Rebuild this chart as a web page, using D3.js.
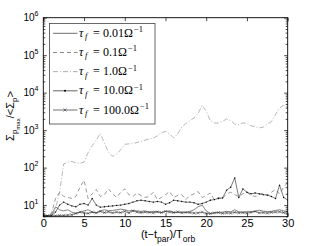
<!DOCTYPE html>
<html>
<head>
<meta charset="utf-8">
<script src="https://cdn.jsdelivr.net/npm/d3@7"></script>
<style>
  body { margin: 0; background: #fff; }
  svg { display: block; }
</style>
</head>
<body>
<div id="chart"></div>
<script>

var times = d3.range( 0, 30.01, 0.5 );

var tau001 = [ 5.2, 5.2, 5.5, 9, 7.5, 7, 7.5, 6.5, 6, 6.5, 7, 7.5, 6.5, 6.2, 7, 7.5, 7, 7.2, 7.5, 7.8,
    7.5, 7, 7.2, 7, 6.8, 7, 6.5, 6.8, 6.6, 6.4, 6.8, 7, 6.5, 6.3, 6.6, 6.4, 6.8, 7.5, 9, 10,
    7, 6, 6.2, 6.4, 6.5, 6.8, 6.6, 7.5, 6.6, 6.5, 6.7, 6.6, 6.8, 7.3, 6.9, 6.7, 6.8, 7.2, 7.5, 7, 6.8 ];

var tau01 = [ 5.2, 5.2, 6, 15, 22, 17, 16, 15, 17, 30, 46, 15, 20, 26, 17, 19, 27, 20, 16, 22,
    27, 19, 17, 21, 18, 16, 17, 22, 14, 16, 19, 23, 16, 18, 19, 14, 18, 20, 23, 16,
    18, 21, 14, 16, 15, 20, 22, 19, 17, 20, 22, 18, 17, 19, 21, 18, 22, 26, 20, 30, 40 ];

var tau1 = [ 4.9, 4.9, 5, 8, 22, 125, 140, 145, 135, 130, 140, 250, 380, 550, 820, 450, 260, 200, 230, 300,
    420, 430, 440, 470, 500, 540, 580, 610, 700, 850, 930, 800, 620, 800, 1200, 1500, 1800, 2100, 2800, 4600,
    3200, 1800, 1550, 1550, 1700, 2000, 1800, 1450, 1400, 1550, 1550, 1300, 1250, 1150, 1200, 1450, 1700, 2600, 3900, 4600, 4200 ];

var tau10 = [ 5.2, 5.2, 5.2, 6.5, 10, 12, 10.5, 9.5, 9, 10.5, 11, 10, 15, 10, 8.8, 9, 9.3, 9.5, 9.8, 10,
    10.5, 11, 12, 13, 13.5, 13, 12.5, 12, 12.5, 12, 10.5, 11.5, 13.5, 13, 12.5, 12, 12, 11.5, 10.5, 11,
    12, 13.5, 14, 15, 15.5, 25, 30, 53, 16, 27, 22, 20, 21, 20, 19, 18.5, 17, 15, 34, 16, 13.6 ];

var tau100 = [ 5.2, 5.2, 5.2, 5.2, 5.3, 5.3, 5.4, 5.5, 6, 6.5, 6.2, 6, 6.5, 6.2, 6.8, 6.3, 6.6, 6.2, 6.5, 6.3,
    6.8, 6.2, 7, 6.5, 6.3, 6.5, 6.4, 6.2, 6.6, 6.3, 6.8, 6.5, 6.3, 6.6, 6.2, 6.4, 6.3, 6.1, 6.2, 6.5,
    6, 5.9, 6.2, 6.3, 6, 6.2, 6.1, 6.4, 6.2, 6.3, 6.1, 6.4, 6.8, 6.2, 6.3, 6.1, 6.4, 6.5, 6.6, 6.3, 6.1 ];

var legendValues = [ '0.01', '0.1', '1.0', '10.0', '100.0' ];
var xTicks = [ 0, 5, 10, 15, 20, 25, 30 ];
var yTicks = [ 1, 2, 3, 4, 5, 6 ];   // decades

var series = [
    { values: tau001, dash: null,          color: '#333', marker: null },
    { values: tau01,  dash: '4,3',         color: '#555', marker: null },
    { values: tau1,   dash: '5,2,1,2',     color: '#888', marker: null },
    { values: tau10,  dash: null,          color: '#222', marker: 'dot' },
    { values: tau100, dash: null,          color: '#333', marker: 'x' }
];

// Chart size

var width = 317, height = 246;
var plotLeft = 43.3, plotRight = 287.7, plotTop = 17.7, plotBottom = 216.7;

var svg = d3.select('#chart').append('svg')
    .attr('width', width)
    .attr('height', height);

var x = d3.scaleLinear().domain([ 0, 30 ]).range([ plotLeft, plotRight ]);
var y = d3.scaleLog().domain([ 4.9, 1e6 ]).range([ plotBottom, plotTop ]);

svg.append('defs').append('clipPath').attr('id', 'plot-clip')
    .append('rect')
    .attr('x', plotLeft).attr('y', plotTop)
    .attr('width', plotRight - plotLeft).attr('height', plotBottom - plotTop);

// Lines

var line = d3.line()
    .x(function ( d, i ) { return x( times[ i ] ); })
    .y(function ( d ) { return y( d ); });

var plot = svg.append('g').attr('clip-path', 'url(#plot-clip)');

series.forEach(function ( s ) {

    plot.append('path')
        .datum( s.values )
        .attr('d', line)
        .attr('fill', 'none')
        .attr('stroke', s.color)
        .attr('stroke-width', 0.6)
        .attr('stroke-dasharray', s.dash);

    if ( s.marker === 'dot' ) {
        plot.selectAll(null).data( s.values ).enter().append('circle')
            .attr('cx', function ( d, i ) { return x( times[ i ] ); })
            .attr('cy', function ( d ) { return y( d ); })
            .attr('r', 0.7)
            .attr('fill', '#000');
    }

    if ( s.marker === 'x' ) {
        plot.selectAll(null).data( s.values ).enter().append('path')
            .attr('d', function ( d, i ) {
                var cx = x( times[ i ] ), cy = y( d ), r = 1.4;
                return 'M' + (cx - r) + ',' + (cy - r) + 'L' + (cx + r) + ',' + (cy + r) +
                       'M' + (cx - r) + ',' + (cy + r) + 'L' + (cx + r) + ',' + (cy - r);
            })
            .attr('stroke', '#333')
            .attr('stroke-width', 0.5);
    }

});

// Axes, ticks inside on all four sides

var fontAxis = 'Liberation Sans, Arial, sans-serif';

function styleAxis ( g ) {
    g.select('.domain').remove();
    g.selectAll('line').attr('stroke', '#000').attr('stroke-width', 0.7);
}

svg.append('g')
    .attr('transform', 'translate(0,' + plotBottom + ')')
    .call( d3.axisBottom( x ).tickValues( xTicks ).tickSizeInner( -3.5 ).tickSizeOuter( 0 ).tickPadding( 3 ) )
    .call( styleAxis )
    .selectAll('text')
    .attr('font-family', fontAxis)
    .attr('font-size', 11)
    .attr('fill', '#000');

svg.append('g')
    .attr('transform', 'translate(0,' + plotTop + ')')
    .call( d3.axisTop( x ).tickValues( xTicks ).tickSizeInner( -3.5 ).tickSizeOuter( 0 ).tickFormat('') )
    .call( styleAxis );

var majorY = yTicks.map(function ( e ) { return Math.pow( 10, e ); });
var minorY = [];
[ 0, 1, 2, 3, 4, 5 ].forEach(function ( e ) {
    d3.range( 2, 10 ).forEach(function ( m ) {
        var v = m * Math.pow( 10, e );
        if ( v >= 4.9 && v <= 1e6 ) minorY.push( v );
    });
});

[ [ d3.axisLeft, plotLeft ], [ d3.axisRight, plotRight ] ].forEach(function ( a ) {
    svg.append('g')
        .attr('transform', 'translate(' + a[ 1 ] + ',0)')
        .call( a[ 0 ]( y ).tickValues( majorY ).tickSizeInner( -3.5 ).tickSizeOuter( 0 ).tickFormat('') )
        .call( styleAxis );
    svg.append('g')
        .attr('transform', 'translate(' + a[ 1 ] + ',0)')
        .call( a[ 0 ]( y ).tickValues( minorY ).tickSizeInner( -2 ).tickSizeOuter( 0 ).tickFormat('') )
        .call( styleAxis );
});

// Y tick labels 10^n

var yLab = svg.append('g').selectAll('text').data( yTicks ).enter().append('text')
    .attr('x', 38.5)
    .attr('y', function ( d ) { return y( Math.pow( 10, d ) ) + 3.5; })
    .attr('text-anchor', 'end')
    .attr('font-family', fontAxis)
    .attr('font-size', 10)
    .attr('fill', '#000');

yLab.append('tspan').text('10');
yLab.append('tspan')
    .attr('dy', -5)
    .attr('font-size', 7)
    .text(function ( d ) { return d; });

// Frame

svg.append('rect')
    .attr('x', plotLeft).attr('y', plotTop)
    .attr('width', plotRight - plotLeft).attr('height', plotBottom - plotTop)
    .attr('fill', 'none')
    .attr('stroke', '#000')
    .attr('stroke-width', 0.9);

// X label

var xl = svg.append('text')
    .attr('x', 168)
    .attr('y', 238)
    .attr('text-anchor', 'middle')
    .attr('font-family', fontAxis)
    .attr('font-size', 11)
    .attr('fill', '#000');

xl.append('tspan').text('(t\u2212t');
xl.append('tspan').attr('dy', 4).attr('font-size', 8.5).text('par');
xl.append('tspan').attr('dy', -4).text(')/T');
xl.append('tspan').attr('dy', 4).attr('font-size', 8.5).text('orb');

// Y label

var yl = svg.append('text')
    .attr('transform', 'translate(14,116) rotate(-90)')
    .attr('text-anchor', 'middle')
    .attr('font-family', fontAxis)
    .attr('font-size', 11)
    .attr('fill', '#000');

yl.append('tspan').text('\u03A3');
yl.append('tspan').attr('dy', 3).attr('font-size', 8).text('p');
yl.append('tspan').attr('dy', 3).attr('font-size', 6).text('max');
yl.append('tspan').attr('dy', -6).text('/<\u03A3');
yl.append('tspan').attr('dy', 3).attr('font-size', 8).text('p');
yl.append('tspan').attr('dy', -3).text('>');

// Legend

var legend = svg.append('g');

legend.append('rect')
    .attr('x', 49.5).attr('y', 23.5)
    .attr('width', 105.5).attr('height', 100.5)
    .attr('fill', '#fff')
    .attr('stroke', '#444')
    .attr('stroke-width', 0.8);

var rowY = d3.scaleLinear().domain([ 0, 4 ]).range([ 33.3, 110 ]);
var fontSerif = 'Liberation Serif, DejaVu Serif, serif';

series.forEach(function ( s, i ) {

    var ly = rowY( i );

    legend.append('line')
        .attr('x1', 53).attr('x2', 77.5)
        .attr('y1', ly).attr('y2', ly)
        .attr('stroke', s.color)
        .attr('stroke-width', 0.7)
        .attr('stroke-dasharray', s.dash);

    if ( s.marker === 'dot' ) {
        legend.append('circle').attr('cx', 65).attr('cy', ly).attr('r', 1).attr('fill', '#000');
    }
    if ( s.marker === 'x' ) {
        legend.append('path')
            .attr('d', 'M63.5,' + (ly - 1.5) + 'L66.5,' + (ly + 1.5) + 'M63.5,' + (ly + 1.5) + 'L66.5,' + (ly - 1.5))
            .attr('stroke', '#333').attr('stroke-width', 0.6);
    }

    var t = legend.append('text')
        .attr('y', ly + 3.5)
        .attr('font-family', fontSerif)
        .attr('font-size', 12)
        .attr('fill', '#000');

    t.append('tspan').attr('x', 79).attr('font-style', 'italic').text('\u03C4');
    t.append('tspan').attr('x', 85).attr('dy', 2.5).attr('font-size', 8.5).attr('font-style', 'italic').text('f');
    t.append('tspan').attr('x', 93).attr('dy', -2.5).text('=');
    t.append('tspan').attr('x', 103).text( legendValues[ i ] + '\u03A9');
    t.append('tspan').attr('dx', 1).attr('dy', -4.5).attr('font-size', 8.5).text('\u22121');

});

</script>
</body>
</html>
